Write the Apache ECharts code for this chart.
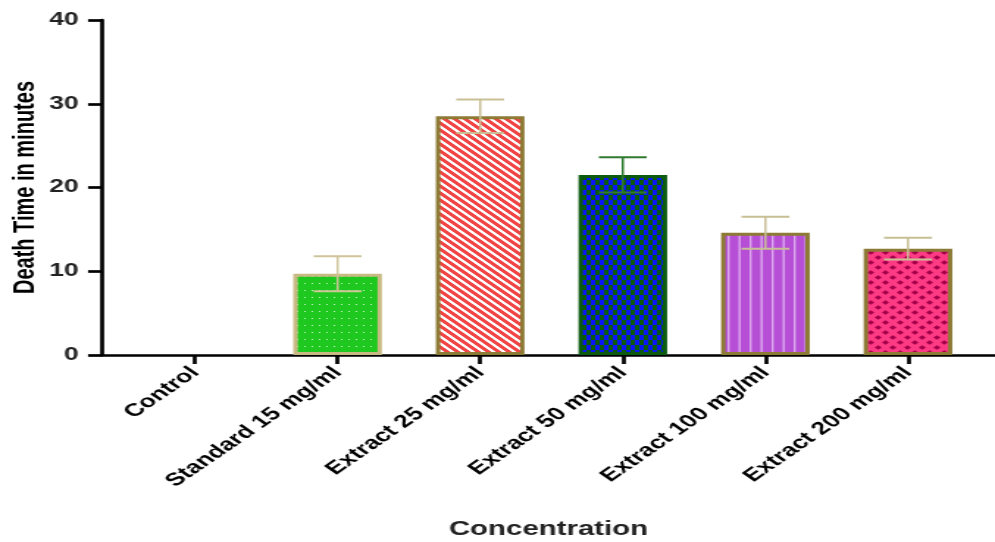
<!DOCTYPE html>
<html>
<head>
<meta charset="utf-8">
<script src="https://cdn.jsdelivr.net/npm/echarts@6/dist/echarts.min.js"></script>
<style>
html,body{margin:0;padding:0;background:#fff;overflow:hidden;width:995px;height:542px}
#c{width:677px;height:542px;transform:scale(1.4697,1);transform-origin:0 0}
</style>
</head>
<body>
<div id="c"></div>
<script>
const categories = ['Control', 'Standard 15 mg/ml', 'Extract 25 mg/ml', 'Extract 50 mg/ml', 'Extract 100 mg/ml', 'Extract 200 mg/ml'];
const means = [0, 9.7, 28.5, 21.5, 14.6, 12.7];
const sds = [0, 2.1, 2.0, 2.1, 1.9, 1.3];
const yTicks = [0, 10, 20, 30, 40];
const borderColors = ['#8c7a35', '#c9b984', '#8c7a35', '#0b5a10', '#8c7a35', '#8c7a35'];
const errColors = ['#c8bf95', '#cfc49a', '#c8bf95', '#2f7a2f', '#c8bf95', '#c8bf95'];

function makeCanvas(w, h, draw) {
  const c = document.createElement('canvas');
  c.width = w; c.height = h;
  const g = c.getContext('2d');
  draw(g, w, h);
  return c;
}
const patGreen = makeCanvas(5, 7, (g) => {
  g.fillStyle = '#1fc81f'; g.fillRect(0, 0, 5, 7);
  g.fillStyle = '#c4f2c4'; g.fillRect(2, 3, 1, 1);
});
const patRed = makeCanvas(7, 7, (g, w, h) => {
  g.fillStyle = '#ffffff'; g.fillRect(0, 0, w, h);
  g.fillStyle = '#f24545';
  for (let x = 0; x < w; x++) for (let y = 0; y < h; y++) {
    if (((x - y) % 7 + 7) % 7 < 4) g.fillRect(x, y, 1, 1);
  }
});
const patBlue = makeCanvas(6, 10, (g) => {
  g.fillStyle = '#0a5a0a'; g.fillRect(0, 0, 6, 10);
  g.fillStyle = '#0a14ff'; g.fillRect(0, 0, 3, 5); g.fillRect(3, 5, 3, 5);
});
const patPurple = makeCanvas(15, 4, (g) => {
  g.fillStyle = '#b64fd6'; g.fillRect(0, 0, 15, 4);
  g.fillStyle = '#dcaaee'; g.fillRect(0, 0, 1.4, 4); g.fillRect(7.5, 0, 1.4, 4);
});
const patPink = makeCanvas(10, 10, (g) => {
  g.fillStyle = '#fd3a84'; g.fillRect(0, 0, 10, 10);
  g.fillStyle = '#a3004a';
  const dot = (cx, cy) => {
    g.beginPath();
    g.moveTo(cx - 2.4, cy); g.lineTo(cx, cy - 2.2); g.lineTo(cx + 2.4, cy); g.lineTo(cx, cy + 2.2);
    g.closePath(); g.fill();
  };
  dot(2.5, 2.5); dot(7.5, 7.5); dot(-2.5, 7.5); dot(12.5, 2.5); dot(7.5, -2.5); dot(2.5, 12.5);
});
const patterns = [null, patGreen, patRed, patBlue, patPurple, patPink];

const barData = means.map((v, i) => ({
  value: [i, v],
  itemStyle: {
    color: patterns[i] ? { image: patterns[i], repeat: 'repeat' } : '#ffffff',
    borderColor: borderColors[i],
    borderWidth: v > 0 ? 3 : 0
  }
}));
const errData = means.map((v, i) => [i, v - sds[i], v + sds[i]]);

const FONT = 'Liberation Sans, Arial, sans-serif';
const chart = echarts.init(document.getElementById('c'), null, { renderer: 'canvas' });
chart.setOption({
  animation: false,
  grid: { left: 69.4, right: 0, top: 20, bottom: 187, containLabel: false, outerBoundsMode: 'none' },
  xAxis: {
    type: 'value',
    min: -0.652,
    max: 5.61,
    splitLine: { show: false },
    axisLine: { show: true, onZero: false, lineStyle: { color: '#000', width: 2.7 } },
    axisTick: { show: true, customValues: [0, 1, 2, 3, 4, 5], length: 9, lineStyle: { color: '#000', width: 2.7 } },
    axisLabel: {
      customValues: [0, 1, 2, 3, 4, 5],
      formatter: (v) => categories[Math.round(v)] || '',
      rotate: 45,
      margin: 15,
      fontFamily: FONT,
      fontWeight: 'bold',
      fontSize: 18,
      color: '#000'
    },
    name: 'Concentration',
    nameLocation: 'middle',
    nameGap: 164,
    nameMoveOverlap: false,
    nameTextStyle: { fontFamily: FONT, fontWeight: 'bold', fontSize: 20, color: '#222' }
  },
  yAxis: {
    type: 'value',
    min: 0,
    max: 40,
    interval: 10,
    splitLine: { show: false },
    axisLine: { show: true, onZero: false, lineStyle: { color: '#000', width: 2.7 } },
    axisTick: { show: true, length: 9.5, lineStyle: { color: '#000', width: 2.7 } },
    axisLabel: {
      formatter: (v) => yTicks.includes(v) ? String(v) : '',
      margin: 16,
      fontFamily: FONT,
      fontWeight: 'bold',
      fontSize: 18,
      color: '#222'
    },
    name: 'Death Time in minutes',
    nameLocation: 'middle',
    nameGap: 42,
    nameMoveOverlap: false,
    nameTextStyle: { fontFamily: FONT, fontWeight: 'bold', fontSize: 20, color: '#000' }
  },
  series: [
    {
      type: 'bar',
      data: barData,
      barWidth: 60.3
    },
    {
      type: 'custom',
      data: errData,
      renderItem: function (params, api) {
        const i = api.value(0);
        const lo = api.coord([i, api.value(1)]);
        const hi = api.coord([i, api.value(2)]);
        if (means[i] === 0) return null;
        const half = 16.3;
        const style = { stroke: errColors[i], lineWidth: 2 };
        return {
          type: 'group',
          children: [
            { type: 'line', shape: { x1: hi[0], y1: hi[1], x2: lo[0], y2: lo[1] }, style: { stroke: errColors[i], lineWidth: 1.5 } },
            { type: 'line', shape: { x1: hi[0] - half, y1: hi[1], x2: hi[0] + half, y2: hi[1] }, style },
            { type: 'line', shape: { x1: lo[0] - half, y1: lo[1], x2: lo[0] + half, y2: lo[1] }, style }
          ]
        };
      },
      z: 5
    }
  ]
});
</script>
</body>
</html>
